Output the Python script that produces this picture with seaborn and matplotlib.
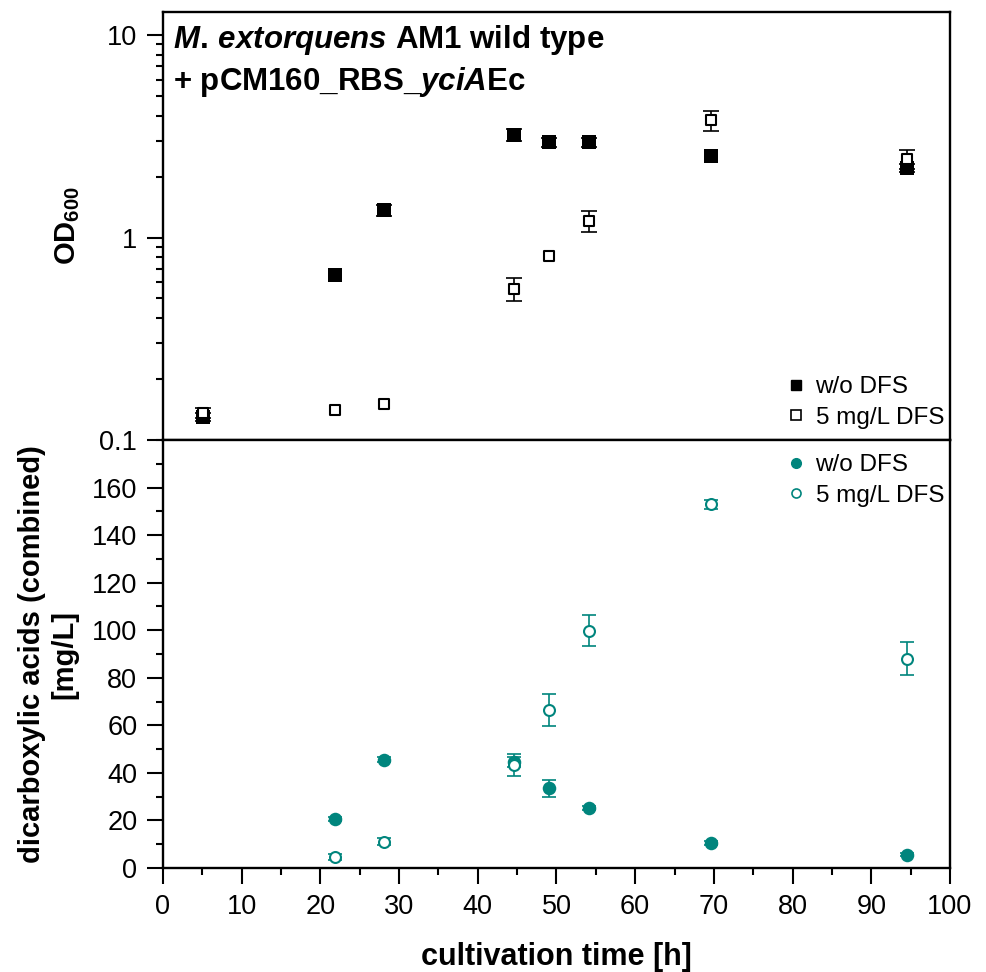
import matplotlib
matplotlib.use("Agg")
import matplotlib.pyplot as plt
import seaborn as sns
from matplotlib.ticker import FixedLocator, MultipleLocator, LogLocator, NullFormatter
from matplotlib.lines import Line2D

# OD600 data (cultivation time in h)
time_od = [5.1, 21.9, 28.1, 44.6, 49.1, 54.1, 69.6, 94.6]
od_wo = [0.13, 0.655, 1.36, 3.2, 2.96, 2.96, 2.52, 2.2]
od_wo_err = [0.006, 0.0, 0.08, 0.22, 0.15, 0.15, 0.0, 0.1]
od_dfs = [0.136, 0.141, 0.15, 0.556, 0.81, 1.21, 3.79, 2.44]
od_dfs_err = [0.008, 0.0, 0.0, 0.072, 0.0, 0.145, 0.42, 0.27]

# dicarboxylic acids (combined) [mg/L]
time_acid = [21.9, 28.1, 44.6, 49.1, 54.1, 69.6, 94.6]
acid_wo = [20.6, 45.6, 44.6, 33.5, 25.3, 10.4, 5.5]
acid_wo_err = [1.0, 1.2, 2.0, 3.5, 0.8, 0.8, 0.6]
acid_dfs = [4.5, 11.1, 43.3, 66.4, 99.7, 152.9, 88.0]
acid_dfs_err = [1.2, 1.5, 4.5, 6.6, 6.5, 2.0, 7.0]

labels = ["w/o DFS", "5 mg/L DFS"]
teal = "#00857D"

sns.set_theme(style="ticks")
plt.rcParams["font.family"] = ["Liberation Sans", "DejaVu Sans"]
plt.rcParams["mathtext.fontset"] = "custom"
plt.rcParams["mathtext.rm"] = "Liberation Sans:bold"
plt.rcParams["mathtext.bf"] = "Liberation Sans:bold"
plt.rcParams["mathtext.it"] = "Liberation Sans:italic:bold"
for key in ["text.color", "axes.labelcolor", "xtick.color", "ytick.color", "axes.edgecolor"]:
    plt.rcParams[key] = "black"


def error_bars(ax, x, y, err, color, cap):
    # only points with a measurable spread get whiskers
    keep = [i for i, e in enumerate(err) if e > 0]
    ax.errorbar([x[i] for i in keep], [y[i] for i in keep], yerr=[err[i] for i in keep],
                fmt="none", ecolor=color, elinewidth=1.2, capsize=cap, capthick=1.2, zorder=2)


fig = plt.figure(figsize=(9.87, 9.72), dpi=100)
ax1 = fig.add_axes([0.1651, 0.5473, 0.7974, 0.4404])
ax2 = fig.add_axes([0.1651, 0.1070, 0.7974, 0.4403])

# --- top panel: OD600 ---
error_bars(ax1, time_od, od_wo, od_wo_err, "black", 6)
error_bars(ax1, time_od, od_dfs, od_dfs_err, "black", 6)
sns.scatterplot(x=time_od, y=od_wo, ax=ax1, marker="s", color="black",
                edgecolor="black", linewidth=0, s=90, zorder=3)
sns.scatterplot(x=time_od, y=od_dfs, ax=ax1, marker="s", color="black",
                facecolor="white", edgecolor="black", linewidth=1.5, s=48, zorder=4)
ax1.set_yscale("log")
ax1.set_ylim(0.1, 13)
ax1.set_xlim(0, 100)
ax1.yaxis.set_major_locator(FixedLocator([0.1, 1, 10]))
ax1.set_yticklabels(["0.1", "1", "10"])
ax1.yaxis.set_minor_locator(LogLocator(subs=range(2, 10)))
ax1.yaxis.set_minor_formatter(NullFormatter())
ax1.set_ylabel("OD$_{\\mathrm{600}}$", fontsize=21, fontweight="bold")
ax1.yaxis.set_label_coords(-0.103, 0.5)

ax1.text(0.0127, 0.916, "$\\mathit{M.\\,extorquens}$ AM1 wild type",
         transform=ax1.transAxes, fontsize=22.5, fontweight="bold", va="baseline")
ax1.text(0.0127, 0.818, "+ pCM160_RBS_$\\mathit{yciA}$Ec",
         transform=ax1.transAxes, fontsize=22.5, fontweight="bold", va="baseline")

h_top = [Line2D([], [], marker="s", ls="none", color="black", markersize=7.5),
         Line2D([], [], marker="s", ls="none", mfc="white", mec="black", mew=1.2, markersize=6.5)]
ax1.legend(h_top, labels, loc="lower right", bbox_to_anchor=(0.9924, 0.026),
           frameon=False, fontsize=17.5, handlelength=0.8, handletextpad=0.4,
           labelspacing=0.36, borderaxespad=0, borderpad=0)

# --- bottom panel: dicarboxylic acids ---
error_bars(ax2, time_acid, acid_wo, acid_wo_err, teal, 5)
error_bars(ax2, time_acid, acid_dfs, acid_dfs_err, teal, 5)
sns.scatterplot(x=time_acid, y=acid_wo, ax=ax2, marker="o", color=teal,
                edgecolor=teal, linewidth=0, s=95, zorder=3)
sns.scatterplot(x=time_acid, y=acid_dfs, ax=ax2, marker="o", color=teal,
                facecolor="white", edgecolor=teal, linewidth=1.5, s=62, zorder=4)
ax2.set_xlim(0, 100)
ax2.set_ylim(0, 180)
ax2.yaxis.set_major_locator(FixedLocator(range(0, 161, 20)))
ax2.yaxis.set_minor_locator(MultipleLocator(10))
ax2.xaxis.set_major_locator(MultipleLocator(10))
ax2.xaxis.set_minor_locator(MultipleLocator(5))
ax2.set_xlabel("cultivation time [h]", fontsize=22, fontweight="bold", labelpad=16)
ax2.set_ylabel("dicarboxylic acids (combined)\n[mg/L]", fontsize=21, fontweight="bold")
ax2.yaxis.set_label_coords(-0.107, 0.5)

h_bot = [Line2D([], [], marker="o", ls="none", color=teal, markersize=7),
         Line2D([], [], marker="o", ls="none", mfc="white", mec=teal, mew=1.2, markersize=6.5)]
ax2.legend(h_bot, labels, loc="upper right", bbox_to_anchor=(0.9924, 0.967),
           frameon=False, fontsize=17.5, handlelength=0.8, handletextpad=0.4,
           labelspacing=0.36, borderaxespad=0, borderpad=0)

for ax in (ax1, ax2):
    for sp in ax.spines.values():
        sp.set_linewidth(1.7)
        sp.set_color("black")
    ax.tick_params(which="major", direction="out", length=11.5, width=1.5,
                   pad=7, labelsize=19.5, colors="black", right=False, top=False)
    ax.tick_params(which="minor", direction="out", length=5, width=1.5,
                   right=False, top=False)
ax1.tick_params(axis="x", which="both", bottom=False, labelbottom=False)

fig.savefig("out.png", dpi=100, facecolor="white")
